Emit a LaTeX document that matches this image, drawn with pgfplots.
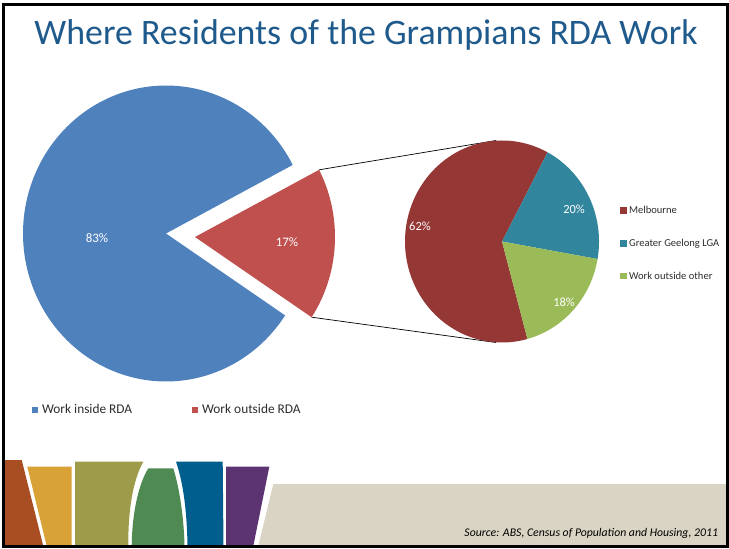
\documentclass[border=0pt]{standalone}
\usepackage{pgfplots}
\pgfplotsset{compat=1.18}
\usepackage{pgfplotstable}
\usepackage{fontspec}
\setmainfont{Carlito}
\definecolor{cTitle}{RGB}{31,90,140}
\definecolor{cIn}{RGB}{79,129,189}
\definecolor{cOut}{RGB}{192,80,77}
\definecolor{cMel}{RGB}{149,55,53}
\definecolor{cGee}{RGB}{49,133,156}
\definecolor{cOth}{RGB}{155,187,89}
\definecolor{cTxt}{RGB}{45,45,45}
\definecolor{cBrown}{RGB}{168,78,34}
\definecolor{cGold}{RGB}{216,162,54}
\definecolor{cOlive}{RGB}{158,155,74}
\definecolor{cGreen}{RGB}{79,138,82}
\definecolor{cDBlue}{RGB}{0,94,143}
\definecolor{cPurple}{RGB}{92,52,113}
\definecolor{cBeige}{RGB}{217,212,195}

\pgfplotstableread{
share
83
17
}\maintable
\pgfplotstableread{
share
62
20
18
}\subtable

\pgfplotsset{
  slide/.style={
    x=1bp, y=1bp, y dir=reverse,
    xmin=0, xmax=729, ymin=0, ymax=548,
    hide axis, clip=false,
    legend image code/.code={\fill[##1] (0bp,-3.2bp) rectangle (6.4bp,3.2bp);},
  },
}

\begin{document}
\begin{tikzpicture}
\pgfplotstablegetelem{0}{share}\of\maintable \edef\vIn{\pgfplotsretval}
\pgfplotstablegetelem{1}{share}\of\maintable \edef\vOut{\pgfplotsretval}
\pgfplotstablegetelem{0}{share}\of\subtable \edef\vMel{\pgfplotsretval}
\pgfplotstablegetelem{1}{share}\of\subtable \edef\vGee{\pgfplotsretval}
\pgfplotstablegetelem{2}{share}\of\subtable \edef\vOth{\pgfplotsretval}
\pgfmathsetmacro\rA{-3-\vOut*1.8}
\pgfmathsetmacro\rB{-3+\vOut*1.8}
\pgfmathsetmacro\bB{\rA+360}
\pgfmathsetmacro\mA{62}
\pgfmathsetmacro\mB{62+\vMel*3.6}
\pgfmathsetmacro\gA{62-\vGee*3.6}
\pgfmathsetmacro\oA{\gA-\vOth*3.6}

% ---------- main pie ----------
\begin{axis}[slide,
  legend columns=2,
  legend style={at={(axis cs:28.5,410)}, anchor=west, draw=none, fill=none,
    font=\fontsize{13.4}{15}\selectfont, text=cTxt,
    nodes={inner sep=1.5bp},
    /tikz/every odd column/.append style={column sep=2.5bp},
    /tikz/every even column/.append style={column sep=58bp}},
  legend cell align=left,
]
\path (axis cs:0,0) rectangle (axis cs:729,548);
% decorations
\fill[cBeige] (axis cs:273.3,484) -- (axis cs:727,484) -- (axis cs:727,546) -- (axis cs:258.3,546) -- cycle;
\fill[cBrown] (axis cs:3,460) -- (axis cs:21.7,460) -- (axis cs:43.3,546) -- (axis cs:3,546) -- cycle;
\fill[cGold] (axis cs:27.3,466.7) -- (axis cs:71.7,466.7) -- (axis cs:71.7,546) -- (axis cs:46.7,546) -- cycle;
\fill[cOlive] (axis cs:75,461.7) -- (axis cs:143.3,461.7) .. controls (axis cs:133,480) and (axis cs:128,510) .. (axis cs:128.3,546) -- (axis cs:75,546) -- cycle;
\fill[cGreen] (axis cs:148.3,468.3) -- (axis cs:173.3,468.3) .. controls (axis cs:180,490) and (axis cs:184,520) .. (axis cs:184.5,546) -- (axis cs:131.7,546) .. controls (axis cs:132,515) and (axis cs:138,485) .. (axis cs:148.3,468.3) -- cycle;
\fill[cDBlue] (axis cs:176,461.7) -- (axis cs:222.7,461.7) -- (axis cs:223.5,546) -- (axis cs:187.5,546) .. controls (axis cs:187,515) and (axis cs:184,485) .. (axis cs:176,461.7) -- cycle;
\fill[cPurple] (axis cs:226,466.7) -- (axis cs:269.3,466.7) -- (axis cs:253.3,546) -- (axis cs:226,546) -- cycle;
\draw[black, line width=3.2bp] (axis cs:3.5,4.5) rectangle (axis cs:727.3,546.5);

\addplot[draw=none, fill=cIn, domain=\rB:\bB, samples=150] ({166+143*cos(x)}, {233.5-148*sin(x)}) -- (axis cs:166,233.5) -- cycle;
\addlegendentry{Work inside RDA}
\addplot[draw=none, fill=cOut, domain=\rA:\rB, samples=40] ({195+140*cos(x)}, {237-145*sin(x)}) -- (axis cs:195,237) -- cycle;
\addlegendentry{Work outside RDA}
\addplot[forget plot, black, line width=0.7bp] coordinates {(319.1,169.8) (496,140.5)};
\addplot[forget plot, black, line width=0.7bp] coordinates {(311.6,317.2) (496,342.5)};

\node[text=white, font=\fontsize{13}{15}\selectfont] at (axis cs:97,238) {83\%};
\node[text=white, font=\fontsize{13}{15}\selectfont] at (axis cs:287,242) {17\%};
\node[anchor=base, text=cTitle, font=\fontsize{36}{40}\selectfont] at (axis cs:366,45) {Where Residents of the Grampians RDA Work};
\node[anchor=base east, text=black, font=\fontsize{11.8}{14}\selectfont\itshape] at (axis cs:721.5,536) {Source: ABS, Census of Population and Housing, 2011};
\end{axis}

% ---------- secondary pie ----------
\begin{axis}[slide,
  legend style={at={(axis cs:617,202.5)}, anchor=north west, draw=none, fill=none,
    font=\fontsize{10.6}{12}\selectfont, text=cTxt,
    nodes={inner sep=1.5bp}, row sep=21bp,
    /tikz/every odd column/.append style={column sep=1bp}},
  legend cell align=left,
]
\addplot[draw=none, fill=cMel, domain=\mA:\mB, samples=120] ({502+97*cos(x)}, {241.5-101*sin(x)}) -- (axis cs:502,241.5) -- cycle;
\addlegendentry{Melbourne}
\addplot[draw=none, fill=cGee, domain=\gA:\mA, samples=50] ({502+97*cos(x)}, {241.5-101*sin(x)}) -- (axis cs:502,241.5) -- cycle;
\addlegendentry{Greater Geelong LGA}
\addplot[draw=none, fill=cOth, domain=\oA:\gA, samples=50] ({502+97*cos(x)}, {241.5-101*sin(x)}) -- (axis cs:502,241.5) -- cycle;
\addlegendentry{Work outside other}
\node[text=white, font=\fontsize{12.5}{14}\selectfont] at (axis cs:420,226) {62\%};
\node[text=white, font=\fontsize{12.5}{14}\selectfont] at (axis cs:574,209) {20\%};
\node[text=white, font=\fontsize{12.5}{14}\selectfont] at (axis cs:564,302) {18\%};
\end{axis}
\end{tikzpicture}
\end{document}
